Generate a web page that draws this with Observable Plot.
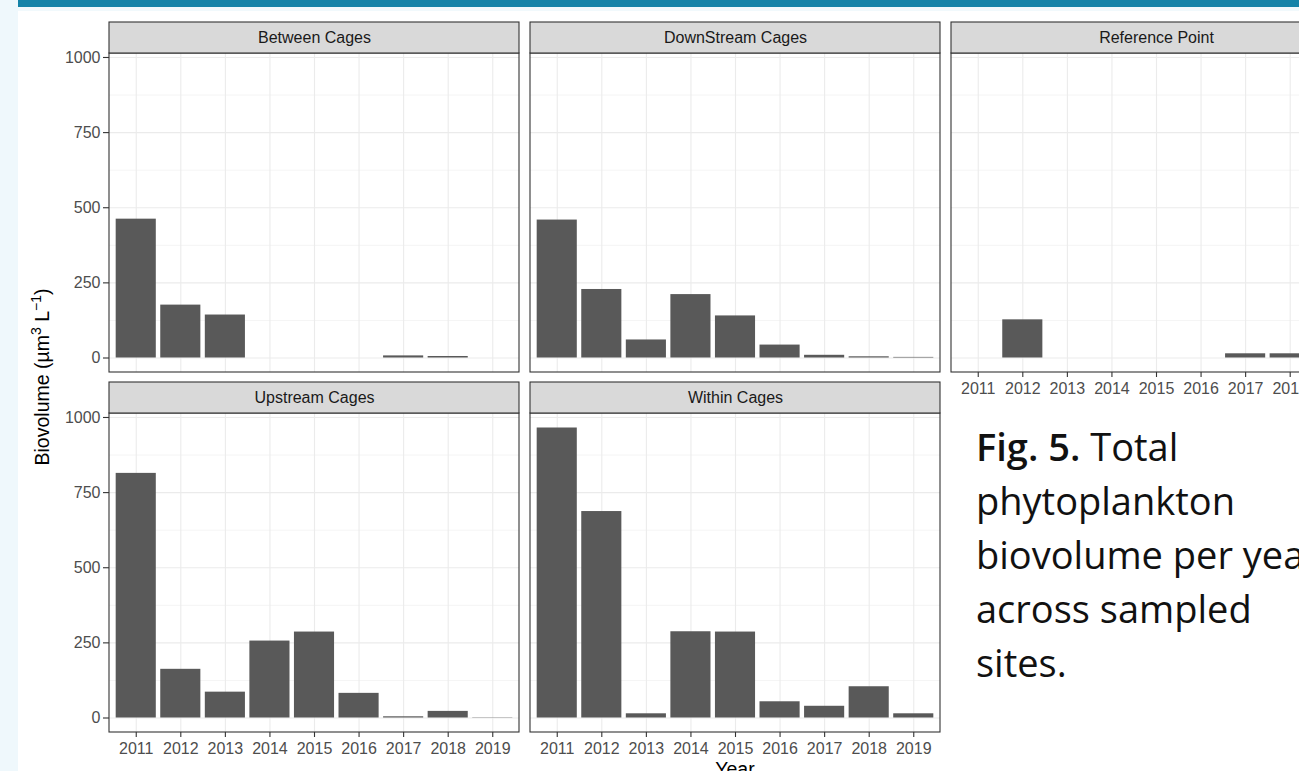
<!DOCTYPE html>
<html>
<head>
<meta charset="utf-8">
<script src="https://cdn.jsdelivr.net/npm/d3@7"></script>
<script src="https://cdn.jsdelivr.net/npm/@observablehq/plot@0.6"></script>
<style>
  html, body { margin: 0; padding: 0; }
  body {
    width: 1299px; height: 771px; overflow: hidden; position: relative;
    background: #ffffff; font-family: "Liberation Sans", Arial, sans-serif;
  }
  #band-top { position: absolute; left: 0; top: 0; width: 1299px; height: 7px; background: #1583a8; }
  #band-top-pale { position: absolute; left: 0; top: 7px; width: 1299px; height: 4px; background: #f1f9fc; }
  #band-left { position: absolute; left: 0; top: 0; width: 18px; height: 771px; background: #eff8fc; }
  #chart { position: absolute; left: 0; top: 0; width: 1361px; }
  #chart svg { overflow: visible; max-width: none; }
  #ytitle {
    position: absolute; left: -158px; top: 365px; width: 400px; height: 24px;
    text-align: center; font-size: 19.5px; line-height: 24px; color: #000;
    transform: rotate(-90deg); transform-origin: 200px 12px; white-space: nowrap;
  }
  #ytitle sup { font-size: 14px; vertical-align: 0; position: relative; top: -8px; }
  #xtitle {
    position: absolute; left: 435px; top: 757px; width: 600px; text-align: center;
    font-size: 19.5px; line-height: 24px; color: #000;
  }
  #caption {
    position: absolute; left: 976px; top: 419px; white-space: nowrap;
    font-family: "Open Sans", "Noto Sans", sans-serif; font-size: 38px; line-height: 54px; color: #111;
  }
  #caption b { font-weight: 600; }
</style>
</head>
<body>
<div id="band-top"></div>
<div id="band-top-pale"></div>
<div id="band-left"></div>
<div id="chart"></div>
<div id="ytitle">Biovolume (µm<sup>3</sup> L<sup>−1</sup>)</div>
<div id="xtitle">Year</div>
<div id="caption"><b>Fig. 5.</b> Total<br>phytoplankton<br>biovolume per year<br>across sampled<br>sites.</div>
<script>
// Sampling sites, in facet order (left to right, top to bottom)
const sites = ["Between Cages", "DownStream Cages", "Reference Point", "Upstream Cages", "Within Cages"];
const years = [2011, 2012, 2013, 2014, 2015, 2016, 2017, 2018, 2019];

// Total phytoplankton biovolume (µm³ L⁻¹) per year; null = no sample
const betweenCages    = [462, 176, 143, null, null, null, 7, 5, null];
const downstreamCages = [459, 228, 60, 211, 140, 43, 9, 4, 2];
const referencePoint  = [null, 127, null, null, null, null, 14, 14, null];
const upstreamCages   = [814, 162, 86, 256, 286, 82, 4, 22, 1];
const withinCages     = [965, 687, 14, 287, 286, 54, 39, 104, 14];

const yTicks = [0, 250, 500, 750, 1000];
const yMinorTicks = [125, 375, 625, 875];

const seriesBySite = [betweenCages, downstreamCages, referencePoint, upstreamCages, withinCages];

// facet cell for every site: three columns, two rows
const panels = sites.map((site, i) => ({site, col: i % 3, row: Math.floor(i / 3)}));

const rows = [];
panels.forEach((p, i) => {
  seriesBySite[i].forEach((v, j) => {
    if (v != null) rows.push({...p, year: years[j], value: v});
  });
});

// ggplot-like scale expansion: 5% on the value axis, 0.6 of a category on the year axis
const maxV = d3.max(rows, d => d.value);
const yLo = -0.05 * maxV;
const yHi = 1.05 * maxV;
const panelPx = 319, stripPx = 31;
const yStrip = yHi + (yHi - yLo) * stripPx / panelPx;
const xLo = years[0] - 0.6;
const xHi = years[years.length - 1] + 0.6;
const barWidth = 0.9;

const gridX = panels.flatMap(p => years.map(year => ({...p, year})));
const gridY = panels.flatMap(p => yTicks.map(v => ({...p, v})));
const gridYMinor = panels.flatMap(p => yMinorTicks.map(v => ({...p, v})));

const facet = {fx: "col", fy: "row"};
const gridColor = "#ebebeb";
const lineColor = "#333333";

const chart = Plot.plot({
  width: 1361,
  height: 771,
  marginLeft: 109,
  marginRight: 0,
  marginTop: 22,
  marginBottom: 39,
  style: {fontFamily: "'Liberation Sans', Arial, sans-serif", fontSize: "16px", background: "transparent", overflow: "visible", maxWidth: "none"},
  fx: {domain: [0, 1, 2], paddingInner: 11 / 421, paddingOuter: 0, axis: null, label: null},
  fy: {domain: [0, 1], paddingInner: 10 / 360, paddingOuter: 0, axis: null, label: null},
  x: {domain: [xLo, xHi], label: null},
  y: {domain: [yLo, yStrip], label: null},
  marks: [
    // panel grid
    Plot.ruleY(gridYMinor, {...facet, y: "v", x1: () => xLo, x2: () => xHi, stroke: gridColor, strokeWidth: 0.55}),
    Plot.ruleX(gridX, {...facet, x: "year", y1: () => yLo, y2: () => yHi, stroke: gridColor, strokeWidth: 1.1}),
    Plot.ruleY(gridY, {...facet, y: "v", x1: () => xLo, x2: () => xHi, stroke: gridColor, strokeWidth: 1.1}),
    // bars
    Plot.rectY(rows, {...facet, x1: d => d.year - barWidth / 2, x2: d => d.year + barWidth / 2, y1: () => 0, y2: "value", fill: "#595959"}),
    // panel border
    Plot.rect(panels, {...facet, x1: () => xLo, x2: () => xHi, y1: () => yLo, y2: () => yHi, fill: "none", stroke: lineColor, strokeWidth: 1.1}),
    // facet strips
    Plot.rect(panels, {...facet, x1: () => xLo, x2: () => xHi, y1: () => yHi, y2: () => yStrip, fill: "#d9d9d9", stroke: lineColor, strokeWidth: 1.1}),
    Plot.text(panels, {...facet, x: () => (xLo + xHi) / 2, y: () => (yHi + yStrip) / 2, text: "site", fill: "#1a1a1a", fontSize: 16}),
    // axes
    Plot.axisY(yTicks, {facetAnchor: "left", tickSize: 6, tickPadding: 3, stroke: lineColor, fill: "#4d4d4d", strokeWidth: 1.1, fontSize: 16, tickFormat: d => String(d), label: null}),
    Plot.axisX(years, {facetAnchor: "bottom-empty", tickSize: 5, tickPadding: 5, stroke: lineColor, fill: "#4d4d4d", strokeWidth: 1.1, fontSize: 16, tickFormat: d => String(d), label: null})
  ]
});

document.getElementById("chart").appendChild(chart);
</script>
</body>
</html>
